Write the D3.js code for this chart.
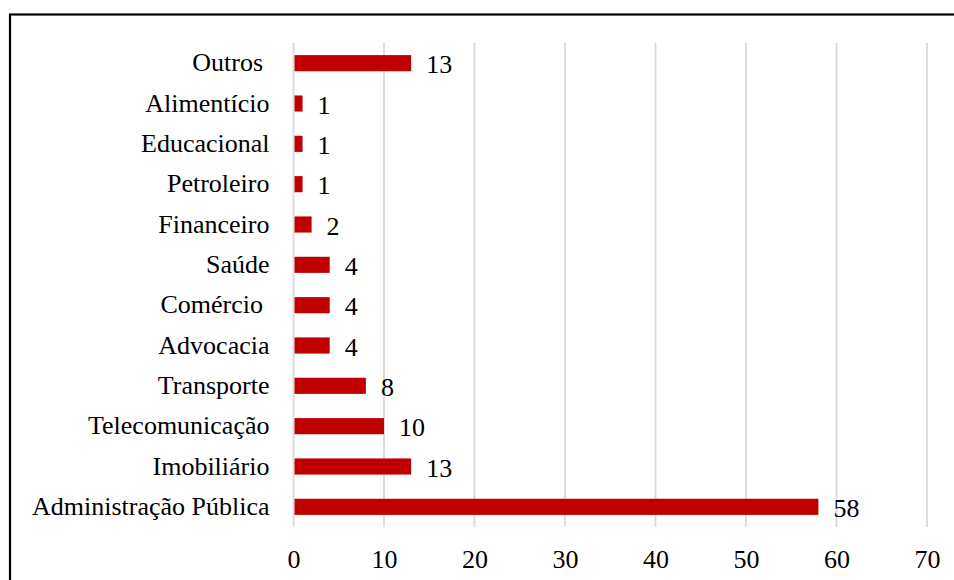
<!DOCTYPE html>
<html>
<head>
<meta charset="utf-8">
<script src="https://cdnjs.cloudflare.com/ajax/libs/d3/7.8.5/d3.min.js"></script>
<style>
  body { margin: 0; background: #fff; }
  text { font-family: "Liberation Serif", "Times New Roman", serif; fill: #000; }
</style>
</head>
<body>
<div id="chart"></div>
<script>
// Chart size
const svgWidth = 954;
const svgHeight = 580;

// Data (top to bottom)
const categories = ["Outros ", "Alimentício", "Educacional", "Petroleiro", "Financeiro", "Saúde",
  "Comércio ", "Advocacia", "Transporte", "Telecomunicação", "Imobiliário", "Administração Pública"];
const counts = [13, 1, 1, 1, 2, 4, 4, 4, 8, 10, 13, 58];
const xTicks = [0, 10, 20, 30, 40, 50, 60, 70];

const fontSize = 26;
const margin = { top: 43, left: 293.5 };
const plotRight = 927;
const plotBottom = 527;

var svg = d3.select("#chart")
  .append("svg")
  .attr("width", svgWidth)
  .attr("height", svgHeight);

// outer frame (cut off at right and bottom)
svg.append("rect")
  .attr("x", 10)
  .attr("y", 14.5)
  .attr("width", 1000)
  .attr("height", 1000)
  .attr("fill", "none")
  .attr("stroke", "#000")
  .attr("stroke-width", 2.2);

let xScale = d3.scaleLinear()
  .domain([0, 70])
  .range([margin.left, plotRight]);

let yScale = d3.scaleBand()
  .domain(categories)
  .range([margin.top, plotBottom])
  .paddingInner(0.6)
  .paddingOuter(0.3);

// gridlines
svg.append("g")
  .selectAll("line")
  .data(xTicks)
  .enter()
  .append("line")
  .attr("x1", d => xScale(d))
  .attr("x2", d => xScale(d))
  .attr("y1", margin.top)
  .attr("y2", plotBottom)
  .attr("stroke", "#d9d9d9")
  .attr("stroke-width", 1.8);

// x axis tick labels
let bottomAxis = d3.axisBottom(xScale)
  .tickValues(xTicks)
  .tickSize(0)
  .tickPadding(0);

let xAxisGroup = svg.append("g")
  .attr("transform", `translate(0, 568)`)
  .call(bottomAxis);
xAxisGroup.select(".domain").remove();
xAxisGroup.selectAll("text")
  .attr("dy", 0)
  .attr("font-size", fontSize);

// y axis category labels
let leftAxis = d3.axisLeft(yScale)
  .tickSize(0)
  .tickPadding(24);

let yAxisGroup = svg.append("g")
  .attr("transform", `translate(${margin.left}, 0)`)
  .call(leftAxis);
yAxisGroup.select(".domain").remove();
yAxisGroup.selectAll("text")
  .attr("font-size", fontSize)
  .style("white-space", "pre");

// bars
svg.append("g")
  .selectAll("rect")
  .data(counts)
  .enter()
  .append("rect")
  .attr("x", xScale(0) + 1)
  .attr("y", (d, i) => yScale(categories[i]))
  .attr("width", d => xScale(d) - xScale(0) - 1)
  .attr("height", yScale.bandwidth())
  .attr("fill", "#c00000");

// value labels
svg.append("g")
  .selectAll("text")
  .data(counts)
  .enter()
  .append("text")
  .attr("x", d => xScale(d) + 15)
  .attr("y", (d, i) => yScale(categories[i]) + yScale.bandwidth() / 2 + 2)
  .attr("dy", "0.32em")
  .attr("font-size", fontSize)
  .text(d => d);
</script>
</body>
</html>
